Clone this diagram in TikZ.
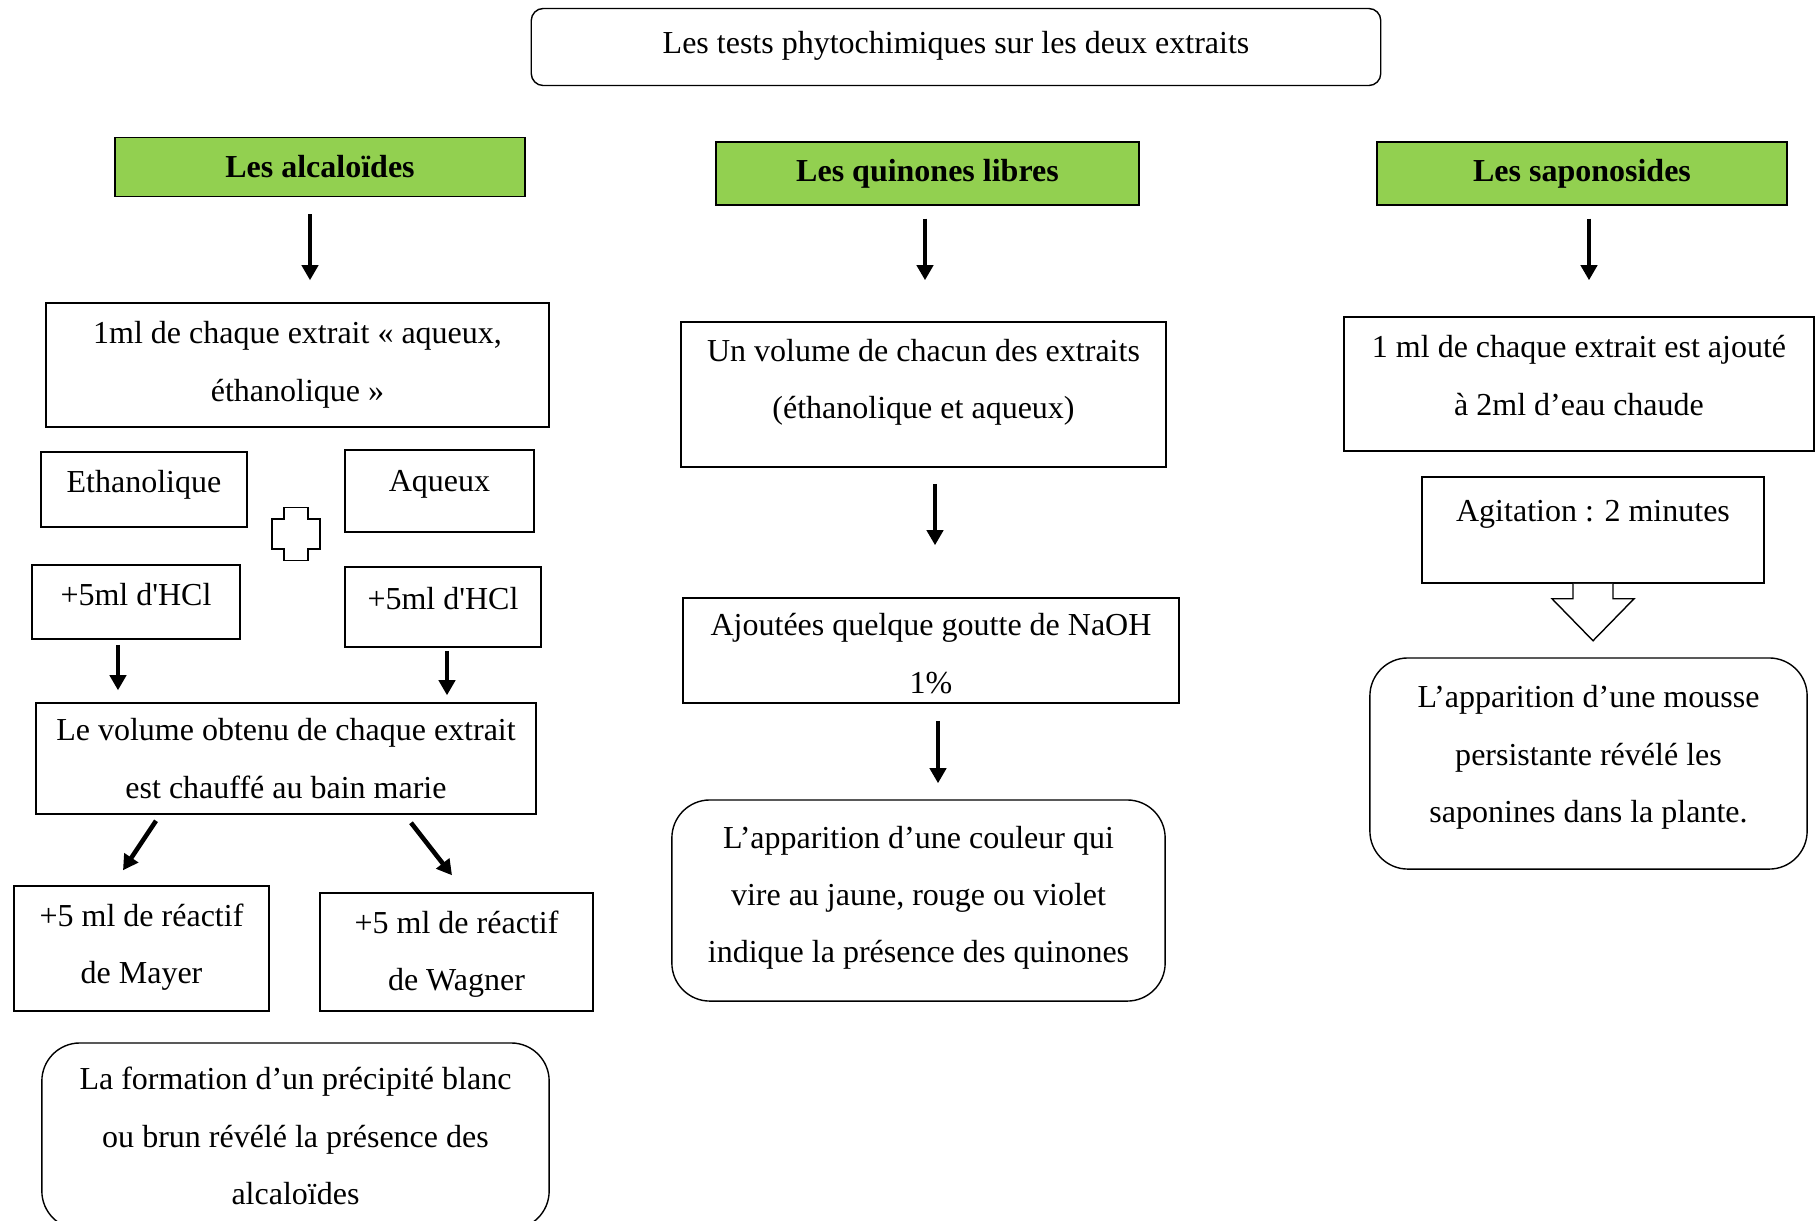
\documentclass[tikz,border=0pt]{standalone}
\usepackage{fontspec}
\setmainfont{Liberation Serif}[Ligatures=TeXOff]
\usepackage{tikz}
\usetikzlibrary{positioning, calc, arrows.meta}
\definecolor{vert}{HTML}{92D050}

\begin{document}
\fontsize{9.1}{16.3}\selectfont
\begin{tikzpicture}[x=0.01cm, y=-0.01cm,
  box/.style = {draw, line width=0.4pt, align=center, inner sep=2pt},
  head/.style = {box, fill=vert, font=\bfseries},
  res/.style = {box, rounded corners=0.38cm},
  td/.style = {text height=0.22cm, text depth=#1},
  tdm/.style = {text depth=#1},
  arr/.style = {-{Triangle[length=4.3pt, width=4.6pt]}, line width=1.1pt} ]

\useasboundingbox (0,0) rectangle (1816,1220);
\clip (0,0) rectangle (1816,1220);

% title
\node[box, rounded corners=0.12cm, minimum width=8.49cm, minimum height=0.77cm, td=0.10cm] (title) at (956,47) {Les tests phytochimiques sur les deux extraits};

% headers
\node[head, minimum width=4.10cm, minimum height=0.59cm] (alcal) at (320,167) {Les alcaloïdes};
\node[head, minimum width=4.23cm, minimum height=0.63cm] (quin) at (927.5,173.5) {Les quinones libres};
\node[head, minimum width=4.10cm, minimum height=0.63cm] (sapo) at (1582,173.5) {Les saponosides};

%--- alcaloides ---
\node[box, minimum width=5.03cm, minimum height=1.24cm, tdm=0.07cm] (ext) at (297.5,365) {1ml de chaque extrait « aqueux,\\ éthanolique »};
\node[box, minimum width=2.06cm, minimum height=0.75cm, td=0.16cm] (eth) at (144,489.5) {Ethanolique};
\node[box, minimum width=1.89cm, minimum height=0.82cm, td=0.22cm] (aq) at (439.5,491) {Aqueux};
\node[box, minimum width=2.08cm, minimum height=0.74cm, td=0.16cm] (hclE) at (136,602) {+5ml d'HCl};
\node[box, minimum width=1.96cm, minimum height=0.80cm, td=0.18cm] (hclA) at (443,607) {+5ml d'HCl};
\node[box, minimum width=5.00cm, minimum height=1.11cm, tdm=-0.01cm] (obt) at (286,758.5) {Le volume obtenu de chaque extrait\\ est chauffé au bain marie};
\node[box, minimum width=2.55cm, minimum height=1.25cm, tdm=0.10cm] (mayer) at (141.5,948.5) {+5 ml de réactif\\ de Mayer};
\node[box, minimum width=2.73cm, minimum height=1.18cm, tdm=0.03cm] (wagner) at (456.5,952) {+5 ml de réactif\\ de Wagner};
\node[res, minimum width=5.07cm, minimum height=1.86cm, tdm=-0.01cm] (alcres) at (295.5,1136) {La formation d’un précipité blanc\\ ou brun révélé la présence des\\ alcaloïdes};

% plus sign
\coordinate (plus) at (296,534);
\draw[line width=0.4pt] ($(plus)+(-12,-26.5)$) -- ++(24,0) -- ++(0,11.5) -- ++(12,0) -- ++(0,30)
  -- ++(-12,0) -- ++(0,11.5) -- ++(-24,0) -- ++(0,-11.5) -- ++(-12,0) -- ++(0,-30) -- ++(12,0) -- cycle;

\draw[arr, shorten <=1.7mm, shorten >=2.2mm] ([xshift=-1mm]alcal.south) -- ([xshift=-1mm]alcal.south |- ext.north);
\draw[arr, shorten <=0.5mm, shorten >=1.2mm] ([xshift=-1.8mm]hclE.south) -- ([xshift=-1.8mm]hclE.south |- obt.north);
\draw[arr, shorten <=0.3mm, shorten >=0.7mm] ([xshift=0.4mm]hclA.south) -- ([xshift=0.4mm]hclA.south |- obt.north);
\draw[arr, line width=1.3pt] ([shift={(-130,6)}]obt.south) -- ([shift={(-18.5,-15)}]mayer.north);
\draw[arr, line width=1.3pt] ([shift={(125,8)}]obt.south) -- ([shift={(-4.5,-17)}]wagner.north);

%--- quinones ---
\node[box, minimum width=4.85cm, minimum height=1.45cm, tdm=0.31cm] (vol) at (923.5,394.5) {Un volume de chacun des extraits\\ (éthanolique et aqueux)};
\node[box, inner ysep=0pt, minimum width=4.96cm, minimum height=1.05cm, text height=0.92cm, text depth=0.07cm] (naoh) at (931,650.5) {Ajoutées quelque goutte de NaOH\\ 1\%};
\node[res, minimum width=4.93cm, minimum height=2.01cm, tdm=0.12cm] (quinres) at (918.5,900.5) {L’apparition d’une couleur qui\\ vire au jaune, rouge ou violet\\ indique la présence des quinones};

\draw[arr, shorten <=1.3mm, shorten >=4.1mm] ([xshift=-0.25mm]quin.south) -- ([xshift=-0.25mm]quin.south |- vol.north);
\draw[arr, shorten <=1.6mm, shorten >=5.2mm] ([xshift=1.15mm]vol.south) -- ([xshift=1.15mm]vol.south |- naoh.north);
\draw[arr, shorten <=1.7mm, shorten >=1.6mm] ([xshift=0.7mm]naoh.south) -- ([xshift=0.7mm]naoh.south |- quinres.north);

%--- saponosides ---
\node[box, minimum width=4.70cm, minimum height=1.34cm, tdm=0.17cm] (sapvol) at (1579,384) {1 ml de chaque extrait est ajouté\\ à 2ml d’eau chaude};
\node[box, minimum width=3.42cm, minimum height=1.06cm, td=0.40cm] (agit) at (1593,530) {Agitation : 2 minutes};
\node[res, minimum width=4.37cm, minimum height=2.11cm, tdm=0.19cm] (sapres) at (1588.5,763.5) {L’apparition d’une mousse\\ persistante révélé les\\ saponines dans la plante.};

\draw[arr, shorten <=1.3mm, shorten >=3.6mm] ([xshift=0.7mm]sapo.south) -- ([xshift=0.7mm]sapo.south |- sapvol.north);

% hollow arrow agit -> sapres
\draw[line width=0.4pt, fill=white] ([shift={(-20,0)}]agit.south) -- ++(0,15) -- ++(-21,0) -- ++(41,42)
  -- ++(41,-42) -- ++(-21,0) -- ++(0,-15);

\end{tikzpicture}
\end{document}
